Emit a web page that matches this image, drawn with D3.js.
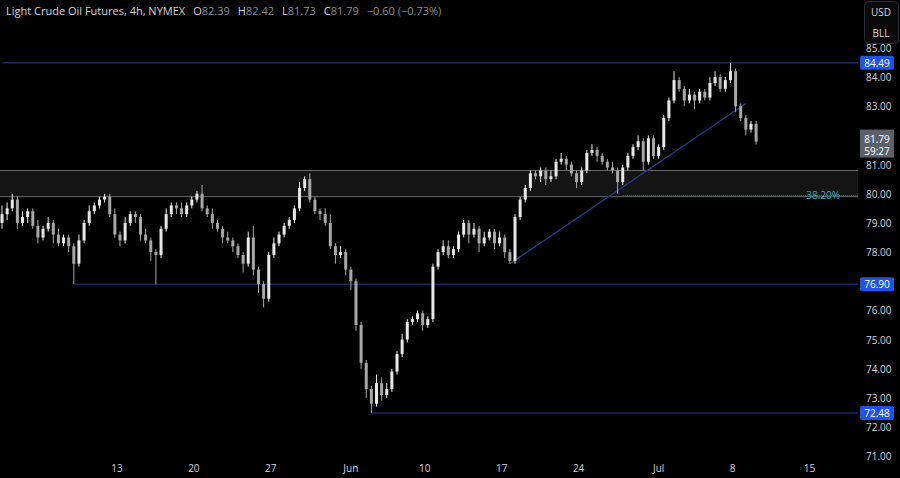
<!DOCTYPE html>
<html>
<head>
<meta charset="utf-8">
<script src="https://cdn.jsdelivr.net/npm/d3@7"></script>
<style>
  body { margin: 0; background: #000; }
  svg { display: block; font-family: "Open Sans", "DejaVu Sans", sans-serif; }
</style>
</head>
<body>
<svg id="chart" viewBox="0 0 900 478" width="900" height="478"></svg>
<script>
// 4h candles, 3 per trading day
const closes = [79.3,79.5,79.8,79.0,79.2,79.4,78.9,78.5,78.8,79.0,78.6,78.3,78.5,78.2,77.6,78.4,79.0,79.4,79.6,79.8,
  79.9,79.3,78.6,78.4,79.0,79.3,79.2,78.6,78.4,78.0,77.9,78.8,79.3,79.6,79.5,79.3,79.6,79.8,80.0,79.5,
  79.3,79.0,78.8,78.5,78.4,78.2,77.9,77.6,78.5,77.4,76.9,76.4,77.9,78.3,78.6,78.9,79.1,79.5,80.2,80.5,
  79.8,79.4,79.3,79.0,78.2,77.9,78.0,77.4,77.0,75.5,74.2,73.3,72.8,73.5,73.1,73.3,73.9,74.5,75.0,75.6,
  75.7,75.9,75.5,75.7,77.5,78.0,78.2,77.9,78.1,78.6,79.0,78.6,78.8,78.3,78.5,78.7,78.3,78.5,78.0,77.7,
  79.2,79.8,80.2,80.7,80.6,80.8,80.5,80.6,81.1,81.2,81.0,80.7,80.4,80.8,81.4,81.5,81.3,81.1,80.9,80.8,
  80.4,80.9,81.3,81.6,81.8,81.1,81.9,81.3,81.6,82.6,83.2,83.9,83.6,83.2,83.4,83.2,83.5,83.3,83.8,84.0,
  83.6,83.9,84.2,83.0,82.6,82.2,82.4,81.79];
const firstOpen = 79.0;
const wickUp = [0.3,0.2,0.2,0.1,0.2,0.1,0.1,0.2,0.1,0.2,0.1,0.2,0.1,0.1,0.1,0.2,0.1,0.2,0.1,0.1,
  0.1,0.1,0.2,0.1,0.2,0.1,0.1,0.1,0.2,0.1,0.1,0.1,0.2,0.1,0.1,0.2,0.1,0.1,0.1,0.3,
  0.1,0.2,0.1,0.1,0.2,0.1,0.1,0.1,0.2,0.4,0.1,0.1,0.1,0.2,0.1,0.1,0.1,0.1,0.2,0.1,
  0.2,0.1,0.1,0.2,0.3,0.1,0.2,0.1,0.1,0.1,0.1,0.1,0.1,0.3,0.2,0.2,0.1,0.1,0.2,0.1,
  0.1,0.1,0.1,0.1,0.1,0.1,0.2,0.2,0.1,0.1,0.1,0.1,0.2,0.1,0.2,0.1,0.1,0.2,0.1,0.1,
  0.1,0.1,0.1,0.1,0.1,0.1,0.1,0.2,0.1,0.2,0.1,0.1,0.1,0.1,0.1,0.2,0.1,0.1,0.1,0.2,
  0.1,0.1,0.1,0.1,0.2,0.1,0.1,0.1,0.1,0.1,0.1,0.3,0.1,0.1,0.2,0.1,0.1,0.1,0.2,0.2,
  0.1,0.1,0.29,0.1,0.1,0.1,0.1,0.1];
const wickDn = [0.2,0.2,0.1,0.2,0.1,0.2,0.1,0.2,0.1,0.1,0.3,0.1,0.1,0.2,0.7,0.1,0.1,0.1,0.1,0.1,
  0.1,0.1,0.1,0.2,0.1,0.1,0.2,0.2,0.1,0.3,1.0,0.1,0.1,0.1,0.2,0.1,0.1,0.1,0.1,0.1,
  0.1,0.2,0.1,0.2,0.1,0.2,0.1,0.3,0.1,0.2,0.3,0.3,0.1,0.1,0.1,0.1,0.1,0.1,0.1,0.1,
  0.1,0.1,0.2,0.1,0.1,0.3,0.1,0.2,0.3,0.2,0.2,0.3,0.32,0.1,0.2,0.1,0.1,0.1,0.1,0.1,
  0.1,0.1,0.2,0.1,0.1,0.1,0.1,0.1,0.1,0.1,0.1,0.3,0.1,0.3,0.1,0.1,0.2,0.1,0.2,0.1,
  0.1,0.1,0.1,0.1,0.1,0.2,0.2,0.1,0.1,0.1,0.2,0.1,0.2,0.1,0.1,0.1,0.2,0.1,0.1,0.1,
  0.4,0.1,0.1,0.1,0.1,0.3,0.1,0.1,0.1,0.1,0.1,0.1,0.1,0.2,0.1,0.3,0.1,0.1,0.1,0.1,
  0.1,0.1,0.1,0.2,0.1,0.2,0.1,0.1];

// bar index of each date label (3 bars per trading day)
const dateLabels = ["13", "20", "27", "Jun", "10", "17", "24", "Jul", "8", "15"];
const dateBars = [22.4, 37.4, 52.4, 68, 82.4, 97.4, 112.4, 128, 142.4, 157.4];
const priceTicks = [71, 72, 73, 74, 75, 76, 77, 78, 79, 80, 81, 82, 83, 84, 85];

const levels = [
  { v: 84.49, from: 0 },
  { v: 76.90, from: 14 },
  { v: 72.48, from: 72 }
];
const zone = [79.90, 80.80];
const fibFrom = 121;
const trend = [{ bar: 99, v: 77.6 }, { bar: 145, v: 83.1 }];
const header = { name: "Light Crude Oil Futures, 4h, NYMEX", o: "82.39", h: "82.42", l: "81.73", c: "81.79", chg: "\u22120.60 (\u22120.73%)" };

const svg = d3.select("#chart");
const W = 900, H = 478, plotR = 858;

const x = d3.scaleLinear().domain([0, 1]).range([2, 7.13]);
const y = d3.scaleLinear().domain([72, 85]).range([427, 48]);

svg.append("rect").attr("width", W).attr("height", H).attr("fill", "#000");

// zone
svg.append("rect")
  .attr("x", 0).attr("width", plotR)
  .attr("y", y(zone[1])).attr("height", y(zone[0]) - y(zone[1]))
  .attr("fill", "#141414");
zone.forEach(v => svg.append("line")
  .attr("x1", 0).attr("x2", plotR).attr("y1", y(v)).attr("y2", y(v))
  .attr("stroke", "#6a6a6a").attr("stroke-width", 1));
svg.append("line")
  .attr("x1", x(fibFrom)).attr("x2", plotR).attr("y1", y(zone[0]) - 1).attr("y2", y(zone[0]) - 1)
  .attr("stroke", "#2a8a8f").attr("stroke-dasharray", "1,1");
svg.append("text").attr("x", 840).attr("y", y(zone[0]) + 2)
  .attr("text-anchor", "end").attr("fill", "#3fa8b0").attr("font-size", 10).text("38.20%");

// horizontal levels
levels.forEach(l => svg.append("line")
  .attr("x1", x(l.from)).attr("x2", plotR).attr("y1", y(l.v)).attr("y2", y(l.v))
  .attr("stroke", "#2b3a8c").attr("stroke-width", 1));

// trendline
svg.append("line")
  .attr("x1", x(trend[0].bar)).attr("y1", y(trend[0].v))
  .attr("x2", x(trend[1].bar)).attr("y2", y(trend[1].v))
  .attr("stroke", "#2b3a8c").attr("stroke-width", 1.2);

// candles
const candles = closes.map((c, i) => {
  const o = i === 0 ? firstOpen : closes[i - 1];
  return { i, o, c, h: Math.max(o, c) + wickUp[i], l: Math.min(o, c) - wickDn[i] };
});
const g = svg.append("g");
g.selectAll("line.w").data(candles).enter().append("line")
  .attr("x1", d => x(d.i)).attr("x2", d => x(d.i))
  .attr("y1", d => y(d.h)).attr("y2", d => y(d.l))
  .attr("stroke", d => d.c >= d.o ? "#e8e8e8" : "#a8a8a8").attr("stroke-width", 1);
g.selectAll("rect.b").data(candles).enter().append("rect")
  .attr("x", d => x(d.i) - 1.5).attr("width", 3)
  .attr("y", d => y(Math.max(d.o, d.c)))
  .attr("height", d => Math.max(1, Math.abs(y(d.o) - y(d.c))))
  .attr("fill", d => d.c >= d.o ? "#e8e8e8" : "#a8a8a8");

// price axis (ticks hidden behind the level / last price labels are skipped)
const last = closes[closes.length - 1];
const labelled = levels.map(l => l.v).concat([last]);
const visibleTicks = priceTicks.filter(t => labelled.every(v => Math.abs(y(t) - y(v)) > 11));
svg.append("g").selectAll("text").data(visibleTicks).enter().append("text")
  .attr("x", 866).attr("y", d => y(d) + 4)
  .attr("fill", "#d1d4dc").attr("font-size", 10).text(d => d.toFixed(2));

// level labels
levels.forEach(l => {
  svg.append("rect").attr("x", 860).attr("y", y(l.v) - 7).attr("width", 34).attr("height", 14)
    .attr("rx", 2).attr("fill", "#1e53e5");
  svg.append("text").attr("x", 877).attr("y", y(l.v) + 4).attr("text-anchor", "middle")
    .attr("fill", "#fff").attr("font-size", 10).text(l.v.toFixed(2));
});

// last price label
svg.append("rect").attr("x", 860).attr("y", y(last) - 12).attr("width", 34).attr("height", 28)
  .attr("fill", "#5d606b");
svg.append("text").attr("x", 877).attr("y", y(last) + 1).attr("text-anchor", "middle")
  .attr("fill", "#fff").attr("font-size", 10).text(last.toFixed(2));
svg.append("text").attr("x", 877).attr("y", y(last) + 13).attr("text-anchor", "middle")
  .attr("fill", "#fff").attr("font-size", 10).text("59:27");

// date axis
svg.append("g").selectAll("text").data(dateLabels).enter().append("text")
  .attr("x", (d, i) => x(dateBars[i])).attr("y", 472).attr("text-anchor", "middle")
  .attr("fill", "#d1d4dc").attr("font-size", 10).text(d => d);

// currency box
svg.append("rect").attr("x", 864.5).attr("y", 1.5).attr("width", 34).attr("height", 42)
  .attr("rx", 4).attr("fill", "#0a0a0a").attr("stroke", "#2a2e39");
svg.append("text").attr("x", 881).attr("y", 16).attr("text-anchor", "middle")
  .attr("fill", "#d1d4dc").attr("font-size", 10).text("USD");
svg.append("text").attr("x", 881).attr("y", 37).attr("text-anchor", "middle")
  .attr("fill", "#d1d4dc").attr("font-size", 10).text("BLL");

// header
const ht = svg.append("text").attr("x", 6).attr("y", 15).attr("font-size", 11).attr("fill", "#d1d4dc");
ht.append("tspan").text(header.name);
[["O", header.o], ["H", header.h], ["L", header.l], ["C", header.c]].forEach(([k, v]) => {
  ht.append("tspan").attr("dx", 8).attr("fill", "#d1d4dc").text(k);
  ht.append("tspan").attr("fill", "#8a8d96").text(v);
});
ht.append("tspan").attr("dx", 8).attr("fill", "#8a8d96").text(header.chg);
</script>
</body>
</html>
